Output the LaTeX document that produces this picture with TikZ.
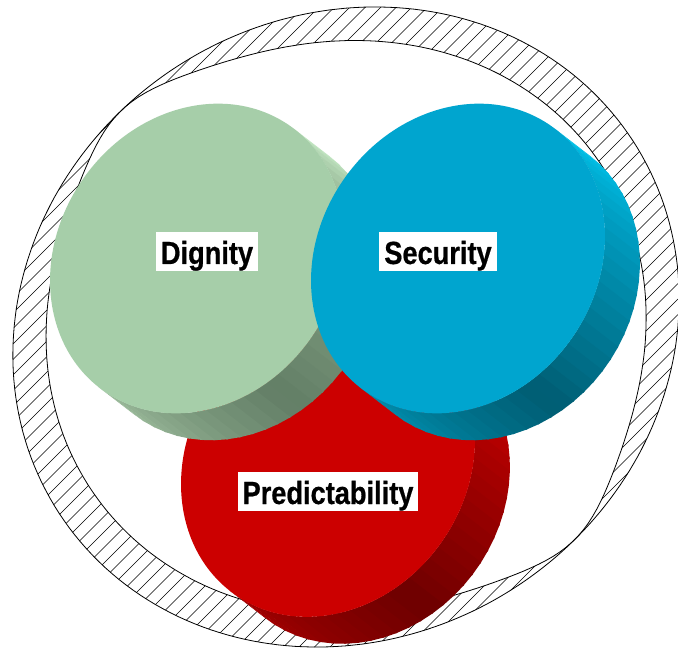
\documentclass[tikz,border=0pt]{standalone}
\usepackage{fontspec}
\newfontfamily\labelfont[FakeStretch=0.85,FakeBold=0.6]{Liberation Sans}
\definecolor{gface}{HTML}{A6CEA9}
\definecolor{gA}{HTML}{C6EBC6}
\definecolor{gB}{HTML}{88A888}
\definecolor{gC}{HTML}{637E66}
\definecolor{gD}{HTML}{9CBC9C}
\definecolor{bface}{HTML}{00A5CF}
\definecolor{bA}{HTML}{00C4EC}
\definecolor{bB}{HTML}{0099BC}
\definecolor{bC}{HTML}{005D73}
\definecolor{bD}{HTML}{0090B0}
\definecolor{rface}{HTML}{CC0000}
\definecolor{rA}{HTML}{E00000}
\definecolor{rB}{HTML}{B00000}
\definecolor{rC}{HTML}{6E0000}
\definecolor{rD}{HTML}{A50000}
% disc: #1,#2 centre (y up), #3 face colour, #4..#7 side colours
\newcommand\mydisc[7]{%
  \begin{scope}[shift={(#1,#2)}, rotate=55]
    \foreach \i in {0,...,35}{%
      \pgfmathsetmacro\ta{-2.3-5*\i}%
      \pgfmathsetmacro\tb{\ta-5.6}%
      \pgfmathsetmacro\s{5*\i+2.5}%
      \ifdim\s pt<45pt
        \pgfmathsetmacro\p{100*\s/45}\colorlet{segc}{#5!\p!#4}%
      \else\ifdim\s pt<110pt
        \pgfmathsetmacro\p{100*(\s-45)/65}\colorlet{segc}{#6!\p!#5}%
      \else
        \pgfmathsetmacro\p{100*(\s-110)/70}\colorlet{segc}{#7!\p!#6}%
      \fi\fi
      \fill[segc] (\ta:162 and 139) -- (\tb:162 and 139)
        -- ([shift={(-2.04,-44.16)}]\tb:162 and 139)
        -- ([shift={(-2.04,-44.16)}]\ta:162 and 139) -- cycle;
    }
    \fill[#3] (0,0) ellipse[x radius=162, y radius=139];
  \end{scope}}
\begin{document}
\begin{tikzpicture}[x=1pt,y=1pt,
  declare function={
    ro(\a)=100/sqrt(cos(\a-32.7)^2/11.6964+sin(\a-32.7)^2/9.641);
    pf(\d)=\d*\d/(\d*\d+3.24);
    th(\a)=(34+5*sin(2*\a))*1.12*pf(min(abs(\a-136),abs(\a-496))/10)*pf(min(abs(\a-317),abs(\a+43))/10);
    ri(\a)=ro(\a)-th(\a);
  },
  lbl/.style={fill=white, inner xsep=5pt, inner ysep=1pt, text height=31pt, text depth=6pt,
    font=\labelfont\bfseries\fontsize{32}{36}\selectfont},
  ringline/.style={draw=black, line width=0.8pt},
  hatchline/.style={draw=black, line width=0.55pt}]
\useasboundingbox (0,0) rectangle (678,649);
% hatched ring
\begin{scope}
  \clip plot[domain=0:360, samples=241] ({346+ro(\x)*cos(\x)},{322+ro(\x)*sin(\x)}) -- cycle;
  \foreach \c in {-700,-684.5,...,700}
    \draw[hatchline] (0,\c) -- (678,{\c+678});
\end{scope}
\fill[white] plot[domain=0:360, samples=241] ({346+ri(\x)*cos(\x)},{322+ri(\x)*sin(\x)}) -- cycle;
\draw[ringline] plot[domain=0:360, samples=241] ({346+ro(\x)*cos(\x)},{322+ro(\x)*sin(\x)}) -- cycle;
\draw[ringline] plot[domain=0:360, samples=241] ({346+ri(\x)*cos(\x)},{322+ri(\x)*sin(\x)}) -- cycle;
% discs
\mydisc{328}{187}{rface}{rA}{rB}{rC}{rD}
\mydisc{197}{390.5}{gface}{gA}{gB}{gC}{gD}
\mydisc{458}{390.5}{bface}{bA}{bB}{bC}{bD}
% labels
\node[lbl] (dignity) at (207,397.5) {Dignity};
\node[lbl] (security) at (438,397.5) {Security};
\node[lbl] (predict) at (328,157.5) {Predictability};
\end{tikzpicture}
\end{document}
